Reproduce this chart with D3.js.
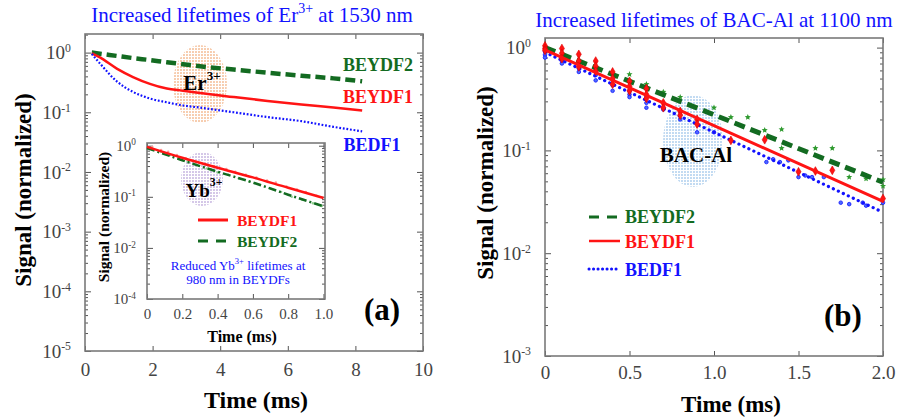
<!DOCTYPE html>
<html>
<head>
<meta charset="utf-8">
<script src="https://cdn.jsdelivr.net/npm/d3@7"></script>
<style>
  body { margin: 0; background: #fff; }
  text { font-family: "Liberation Serif", "Times New Roman", serif; }
</style>
</head>
<body>
<script>
//////////////////////////////////////////////////////////////////////////////
// Data

// (a) Er3+ decay at 1530 nm
let erTime   = [0.2, 0.44, 0.94, 1.42, 1.92, 2.42, 2.9, 3.4, 4.4, 5.4, 6.4, 7.35, 8.2];
let erBEYDF2 = [1.0, 0.96, 0.88, 0.81, 0.75, 0.69, 0.64, 0.59, 0.52, 0.46, 0.41, 0.37, 0.33];
let erBEYDF1 = [0.97, 0.83, 0.54, 0.39, 0.30, 0.25, 0.23, 0.21, 0.18, 0.155, 0.135, 0.12, 0.107];
let erBEDF1  = [0.95, 0.66, 0.33, 0.22, 0.17, 0.147, 0.13, 0.12, 0.10, 0.083, 0.071, 0.057, 0.048];

// inset: Yb3+ decay at 980 nm
let ybTime   = [0, 0.2, 0.4, 0.6, 0.8, 1.0];
let ybBEYDF1 = [0.95, 0.58, 0.37, 0.24, 0.15, 0.095];
let ybBEYDF2 = [0.9, 0.52, 0.31, 0.19, 0.11, 0.065];
// measured points behind the inset fits
let ybPts1 = [[0.03, 0.95], [0.08, 0.83], [0.12, 0.76], [0.17, 0.66], [0.22, 0.57], [0.27, 0.5],
  [0.33, 0.44], [0.38, 0.4], [0.45, 0.35], [0.5, 0.31], [0.56, 0.27], [0.62, 0.24], [0.68, 0.21],
  [0.73, 0.19], [0.79, 0.16], [0.85, 0.14], [0.9, 0.125], [0.96, 0.105]];
let ybPts2 = [[0.03, 0.88], [0.08, 0.76], [0.13, 0.66], [0.18, 0.57], [0.23, 0.49], [0.28, 0.42],
  [0.34, 0.36], [0.4, 0.3], [0.46, 0.27], [0.52, 0.23], [0.58, 0.2], [0.64, 0.17], [0.7, 0.145],
  [0.76, 0.125], [0.82, 0.1], [0.88, 0.088], [0.94, 0.075], [0.99, 0.066]];

// (b) BAC-Al decay at 1100 nm, fitted lines
let bacTime   = [0, 1.0, 2.0];
let bacBEYDF2 = [1.0, 0.222, 0.049];
let bacBEYDF1 = [0.95, 0.174, 0.032];
let bacBEDF1  = [0.9, 0.150, 0.025];
// measured points [time, signal]
let bacPtsBEYDF1 = [[0, 1.04], [0, 0.98], [0, 0.94], [0.1, 0.98], [0.1, 0.88], [0.1, 0.78],
  [0.2, 0.86], [0.2, 0.74], [0.2, 0.65], [0.3, 0.74], [0.3, 0.66], [0.3, 0.59],
  [0.4, 0.58], [0.4, 0.5], [0.4, 0.44], [0.5, 0.47], [0.5, 0.42], [0.5, 0.38],
  [0.6, 0.4], [0.6, 0.35], [0.6, 0.32], [0.7, 0.29], [0.7, 0.26], [0.8, 0.24], [0.8, 0.22],
  [0.9, 0.2], [0.9, 0.18], [1.1, 0.125], [1.3, 0.127], [1.5, 0.062], [1.6, 0.063],
  [1.7, 0.064], [2.0, 0.034]];
let bacPtsBEDF1 = [[0, 0.92], [0, 0.85], [0, 0.8], [0.1, 0.8], [0.1, 0.74], [0.1, 0.7],
  [0.2, 0.69], [0.2, 0.63], [0.2, 0.58], [0.3, 0.62], [0.3, 0.54], [0.3, 0.48],
  [0.4, 0.49], [0.4, 0.43], [0.4, 0.38], [0.5, 0.38], [0.5, 0.35], [0.5, 0.33],
  [0.6, 0.33], [0.6, 0.29], [0.6, 0.26], [0.7, 0.26], [0.7, 0.25], [0.8, 0.2],
  [0.9, 0.15], [1.0, 0.15], [1.31, 0.077], [1.35, 0.082], [1.39, 0.077], [1.44, 0.08],
  [1.5, 0.055], [1.54, 0.057], [1.58, 0.055], [1.65, 0.055], [1.75, 0.031],
  [1.8, 0.03], [1.88, 0.031], [1.9, 0.029], [2.0, 0.031]];
let bacPtsBEYDF2 = [[0.5, 0.55], [0.6, 0.44], [0.7, 0.37], [0.8, 0.33], [1.0, 0.26], [1.1, 0.21],
  [1.2, 0.21], [1.3, 0.157], [1.4, 0.16], [1.4, 0.105], [1.6, 0.105], [1.7, 0.105],
  [1.8, 0.055], [1.9, 0.053], [2.0, 0.052], [2.0, 0.045]];

// tick labels
let erXTicks = [0, 2, 4, 6, 8, 10];
let erYExp = [0, -1, -2, -3, -4, -5];
let ybXTicks = [0, 0.2, 0.4, 0.6, 0.8, 1.0];
let ybYTicks = [1, 0.1, 0.01, 0.001];
let ybYLabels = ["0", "-1", "-2", "-4"];
let bacXTicks = [0, 0.5, 1.0, 1.5, 2.0];
let bacYExp = [0, -1, -2, -3];

//////////////////////////////////////////////////////////////////////////////
// Canvas

let width = 901;
let height = 419;

let green = "#136b21";
let red = "#ff1414";
let blue = "#1212ff";

let svg = d3.select("body").append("svg")
  .attr("width", width)
  .attr("height", height);

svg.append("rect").attr("width", width).attr("height", height).attr("fill", "#fff");

// dotted fills for the ion blobs
let defs = svg.append("defs");
function dotPattern(id, color) {
  let p = defs.append("pattern")
    .attr("id", id)
    .attr("width", 3).attr("height", 3)
    .attr("patternUnits", "userSpaceOnUse");
  p.append("circle").attr("cx", 1).attr("cy", 1).attr("r", 0.95).attr("fill", color);
}
dotPattern("dotsOrange", "#f3b88e");
dotPattern("dotsPurple", "#c2b0de");
dotPattern("dotsBlue", "#a9cbec");

//////////////////////////////////////////////////////////////////////////////
// Helpers

function frame(g, x, y, xTicks, yTicks, opt) {
  let [x0, x1] = x.range();
  let [y1, y0] = y.range();

  // minor log ticks
  let minor = [];
  let [lo, hi] = y.domain();
  for (let k = Math.floor(Math.log10(lo)); k <= Math.ceil(Math.log10(hi)); k++) {
    for (let m = 2; m <= 9; m++) {
      let v = m * Math.pow(10, k);
      if (v > lo && v < hi) minor.push(v);
    }
  }
  g.append("g").attr("transform", `translate(${x0},0)`)
    .call(d3.axisLeft(y).tickValues(minor).tickSize(-3).tickFormat(""));
  g.append("g").attr("transform", `translate(${x1},0)`)
    .call(d3.axisRight(y).tickValues(minor).tickSize(-3).tickFormat(""));

  // major ticks, all four sides
  g.append("g").attr("transform", `translate(0,${y1})`)
    .call(d3.axisBottom(x).tickValues(xTicks).tickSize(-5).tickPadding(opt.xPad)
      .tickFormat(opt.xFormat))
    .selectAll("text").attr("font-size", opt.tickFont).attr("fill", "#444");
  g.append("g").attr("transform", `translate(0,${y0})`)
    .call(d3.axisTop(x).tickValues(xTicks).tickSize(-5).tickFormat(""));
  g.append("g").attr("transform", `translate(${x1},0)`)
    .call(d3.axisRight(y).tickValues(yTicks).tickSize(-6).tickFormat(""));

  let yAx = g.append("g").attr("transform", `translate(${x0},0)`)
    .call(d3.axisLeft(y).tickValues(yTicks).tickSize(-6).tickPadding(opt.yPad));
  yAx.selectAll("text").each(function (d, i) {
    let t = d3.select(this).text("").attr("font-size", opt.tickFont).attr("fill", "#444");
    t.append("tspan").text("10");
    t.append("tspan").attr("dy", -opt.tickFont * 0.38).attr("font-size", opt.tickFont * 0.62)
      .text(opt.yLabels[i]);
  });

  g.selectAll(".domain").remove();
  g.selectAll(".tick line").attr("stroke", "#555").attr("stroke-width", 1);
  g.selectAll("text").attr("font-family", "Liberation Serif, Times New Roman, serif");

  g.append("rect")
    .attr("x", x0).attr("y", y0)
    .attr("width", x1 - x0).attr("height", y1 - y0)
    .attr("fill", "none").attr("stroke", "#7a7a7a").attr("stroke-width", 1.6);
}

function addText(g, x, y, str, size, color, bold, anchor) {
  return g.append("text")
    .attr("x", x).attr("y", y)
    .attr("font-size", size)
    .attr("font-weight", bold ? "bold" : "normal")
    .attr("fill", color)
    .attr("text-anchor", anchor || "middle")
    .attr("dominant-baseline", "central")
    .text(str);
}

function ionLabel(g, x, y, base, sup, size) {
  let t = g.append("text")
    .attr("x", x).attr("y", y)
    .attr("font-size", size).attr("font-weight", "bold")
    .attr("text-anchor", "middle").attr("dominant-baseline", "central");
  t.append("tspan").text(base);
  t.append("tspan").attr("dy", -size * 0.4).attr("font-size", size * 0.62).text(sup);
}

function star(cx, cy, r) {
  let pts = [];
  for (let i = 0; i < 10; i++) {
    let a = -Math.PI / 2 + i * Math.PI / 5;
    let rr = i % 2 ? r * 0.45 : r;
    pts.push([cx + rr * Math.cos(a), cy + rr * Math.sin(a)]);
  }
  return "M" + pts.join("L") + "Z";
}

//////////////////////////////////////////////////////////////////////////////
// Panel (a)

let ga = svg.append("g");
let xa = d3.scaleLinear().domain([0, 10]).range([85, 423]);
let ya = d3.scaleLog().domain([1e-5, 2.05]).range([351, 34]);

ga.append("ellipse")
  .attr("cx", 200).attr("cy", 84).attr("rx", 27).attr("ry", 39)
  .attr("fill", "url(#dotsOrange)");

frame(ga, xa, ya, erXTicks, erYExp.map(e => Math.pow(10, e)), {
  xPad: 12, yPad: 14, tickFont: 19, xFormat: d3.format("d"), yLabels: erYExp.map(String)
});

let lineA = d3.line().x(d => xa(d[0])).y(d => ya(d[1])).curve(d3.curveMonotoneX);

ga.append("path").datum(d3.zip(erTime, erBEYDF2)).attr("d", lineA)
  .attr("fill", "none").attr("stroke", green).attr("stroke-width", 4.5)
  .attr("stroke-dasharray", "10,5");
ga.append("path").datum(d3.zip(erTime, erBEYDF1)).attr("d", lineA)
  .attr("fill", "none").attr("stroke", red).attr("stroke-width", 2.5);
ga.append("path").datum(d3.zip(erTime, erBEDF1)).attr("d", lineA)
  .attr("fill", "none").attr("stroke", blue).attr("stroke-width", 2.2)
  .attr("stroke-dasharray", "1.8,1.8");

ionLabel(ga, 202, 83, "Er", "3+", 21);

addText(ga, 378, 65, "BEYDF2", 18, green, true);
addText(ga, 378, 97, "BEYDF1", 18, red, true);
addText(ga, 372, 145, "BEDF1", 18, blue, true);
addText(ga, 382, 309, "(a)", 31, "#000", true);

addText(ga, 256, 400, "Time (ms)", 24, "#000", true);
addText(ga, 0, 0, "Signal (normalized)", 23, "#000", true)
  .attr("transform", "translate(23,190) rotate(-90)");
addText(ga, 252, 15, "", 21, blue, false).call(t => {
  t.append("tspan").text("Increased lifetimes of Er");
  t.append("tspan").attr("dy", -7).attr("font-size", 14).text("3+");
  t.append("tspan").attr("dy", 7).text(" at 1530 nm");
});

// Inset
let gi = ga.append("g");
let xi = d3.scaleLinear().domain([0, 1]).range([147, 323.5]);
let yi = d3.scaleLog().domain([1e-3, 1.13]).range([299, 143]);

gi.append("rect").attr("x", 147).attr("y", 143).attr("width", 178).attr("height", 156)
  .attr("fill", "#fff");
gi.append("ellipse")
  .attr("cx", 202).attr("cy", 179).attr("rx", 21).attr("ry", 27)
  .attr("fill", "url(#dotsPurple)");

frame(gi, d3.scaleLinear().domain([0, 1.0085]).range([147, 325]), yi, ybXTicks, ybYTicks, {
  xPad: 9, yPad: 11, tickFont: 15, xFormat: d => d === 0 ? "0" : d3.format(".1f")(d),
  yLabels: ybYLabels
});

gi.selectAll(".pt1").data(ybPts1).join("circle")
  .attr("cx", d => xi(d[0])).attr("cy", d => yi(d[1])).attr("r", 1.2)
  .attr("fill", "#ff9a9a");
gi.selectAll(".pt2").data(ybPts2).join("circle")
  .attr("cx", d => xi(d[0])).attr("cy", d => yi(d[1])).attr("r", 1.2)
  .attr("fill", "#8fd08f");

let lineI = d3.line().x(d => xi(d[0])).y(d => yi(d[1])).curve(d3.curveMonotoneX);
gi.append("path").datum(d3.zip(ybTime, ybBEYDF2)).attr("d", lineI)
  .attr("fill", "none").attr("stroke", green).attr("stroke-width", 2.5)
  .attr("stroke-dasharray", "8,3,2,3");
gi.append("path").datum(d3.zip(ybTime, ybBEYDF1)).attr("d", lineI)
  .attr("fill", "none").attr("stroke", red).attr("stroke-width", 2.5);

ionLabel(gi, 204, 190, "Yb", "3+", 19);

gi.append("line").attr("x1", 198).attr("x2", 228).attr("y1", 220).attr("y2", 220)
  .attr("stroke", red).attr("stroke-width", 3);
gi.append("line").attr("x1", 198).attr("x2", 228).attr("y1", 241).attr("y2", 241)
  .attr("stroke", green).attr("stroke-width", 3).attr("stroke-dasharray", "10,8");
addText(gi, 237, 220, "BEYDF1", 15.5, red, true, "start");
addText(gi, 237, 241, "BEYDF2", 15.5, green, true, "start");

addText(gi, 238, 265, "", 13, blue, false).call(t => {
  t.append("tspan").text("Reduced Yb");
  t.append("tspan").attr("dy", -4).attr("font-size", 8.5).text("3+");
  t.append("tspan").attr("dy", 4).text(" lifetimes at");
});
addText(gi, 238, 279, "980 nm in BEYDFs", 13, blue, false);

addText(gi, 242, 336, "Time (ms)", 16, "#000", true);
addText(gi, 0, 0, "Signal (normalized)", 15.5, "#000", true)
  .attr("transform", "translate(103,217) rotate(-90)");

//////////////////////////////////////////////////////////////////////////////
// Panel (b)

let gb = svg.append("g");
let xb = d3.scaleLinear().domain([0, 2]).range([545, 883]);
let yb = d3.scaleLog().domain([1e-3, 1.24]).range([356, 38]);

gb.append("ellipse")
  .attr("cx", 693).attr("cy", 141).attr("rx", 30).attr("ry", 46)
  .attr("fill", "url(#dotsBlue)");

frame(gb, xb, yb, bacXTicks, bacYExp.map(e => Math.pow(10, e)), {
  xPad: 10, yPad: 14, tickFont: 19, xFormat: d => d === 0 ? "0" : d3.format(".1f")(d),
  yLabels: bacYExp.map(String)
});

let lineB = d3.line().x(d => xb(d[0])).y(d => yb(d[1]));

gb.selectAll(".pb").data(bacPtsBEDF1).join("circle")
  .attr("cx", d => xb(d[0])).attr("cy", d => yb(d[1])).attr("r", 1.8)
  .attr("fill", "#4a6cff").attr("stroke", blue).attr("stroke-width", 0.8);
gb.selectAll(".pg").data(bacPtsBEYDF2).join("path")
  .attr("d", d => star(xb(d[0]), yb(d[1]), 3.2))
  .attr("fill", "#2f9a2f");

gb.append("path").datum(d3.zip(bacTime, bacBEYDF2)).attr("d", lineB)
  .attr("fill", "none").attr("stroke", green).attr("stroke-width", 5)
  .attr("stroke-dasharray", "11,6");
gb.append("path").datum(d3.zip(bacTime, bacBEDF1)).attr("d", lineB)
  .attr("fill", "none").attr("stroke", blue).attr("stroke-width", 3.2)
  .attr("stroke-linecap", "round").attr("stroke-dasharray", "0.1,5.4");

gb.selectAll(".pr").data(bacPtsBEYDF1).join("path")
  .attr("d", d => d3.symbol(d3.symbolDiamond, 22)())
  .attr("transform", d => `translate(${xb(d[0])},${yb(d[1])})`)
  .attr("fill", red).attr("stroke", "#d00").attr("stroke-width", 0.6);

gb.append("path").datum(d3.zip(bacTime, bacBEYDF1)).attr("d", lineB)
  .attr("fill", "none").attr("stroke", red).attr("stroke-width", 3);

ionLabel(gb, 696, 155, "BAC-Al", "", 21);

gb.append("line").attr("x1", 589).attr("x2", 620).attr("y1", 217).attr("y2", 217)
  .attr("stroke", green).attr("stroke-width", 3).attr("stroke-dasharray", "10,8");
gb.append("line").attr("x1", 589).attr("x2", 620).attr("y1", 241).attr("y2", 241)
  .attr("stroke", red).attr("stroke-width", 2.5);
gb.append("line").attr("x1", 589).attr("x2", 620).attr("y1", 269).attr("y2", 269)
  .attr("stroke", blue).attr("stroke-width", 3).attr("stroke-linecap", "round")
  .attr("stroke-dasharray", "0.1,4.4");
addText(gb, 625, 217, "BEYDF2", 18, green, true, "start");
addText(gb, 625, 242, "BEYDF1", 18, red, true, "start");
addText(gb, 625, 270, "BEDF1", 18, blue, true, "start");
addText(gb, 843, 315, "(b)", 31, "#000", true);

addText(gb, 731, 404, "Time (ms)", 23, "#000", true);
addText(gb, 0, 0, "Signal (normalized)", 23, "#000", true)
  .attr("transform", "translate(485,183) rotate(-90)");
addText(gb, 714, 20, "Increased lifetimes of BAC-Al at 1100 nm", 21, blue, false);
</script>
</body>
</html>
